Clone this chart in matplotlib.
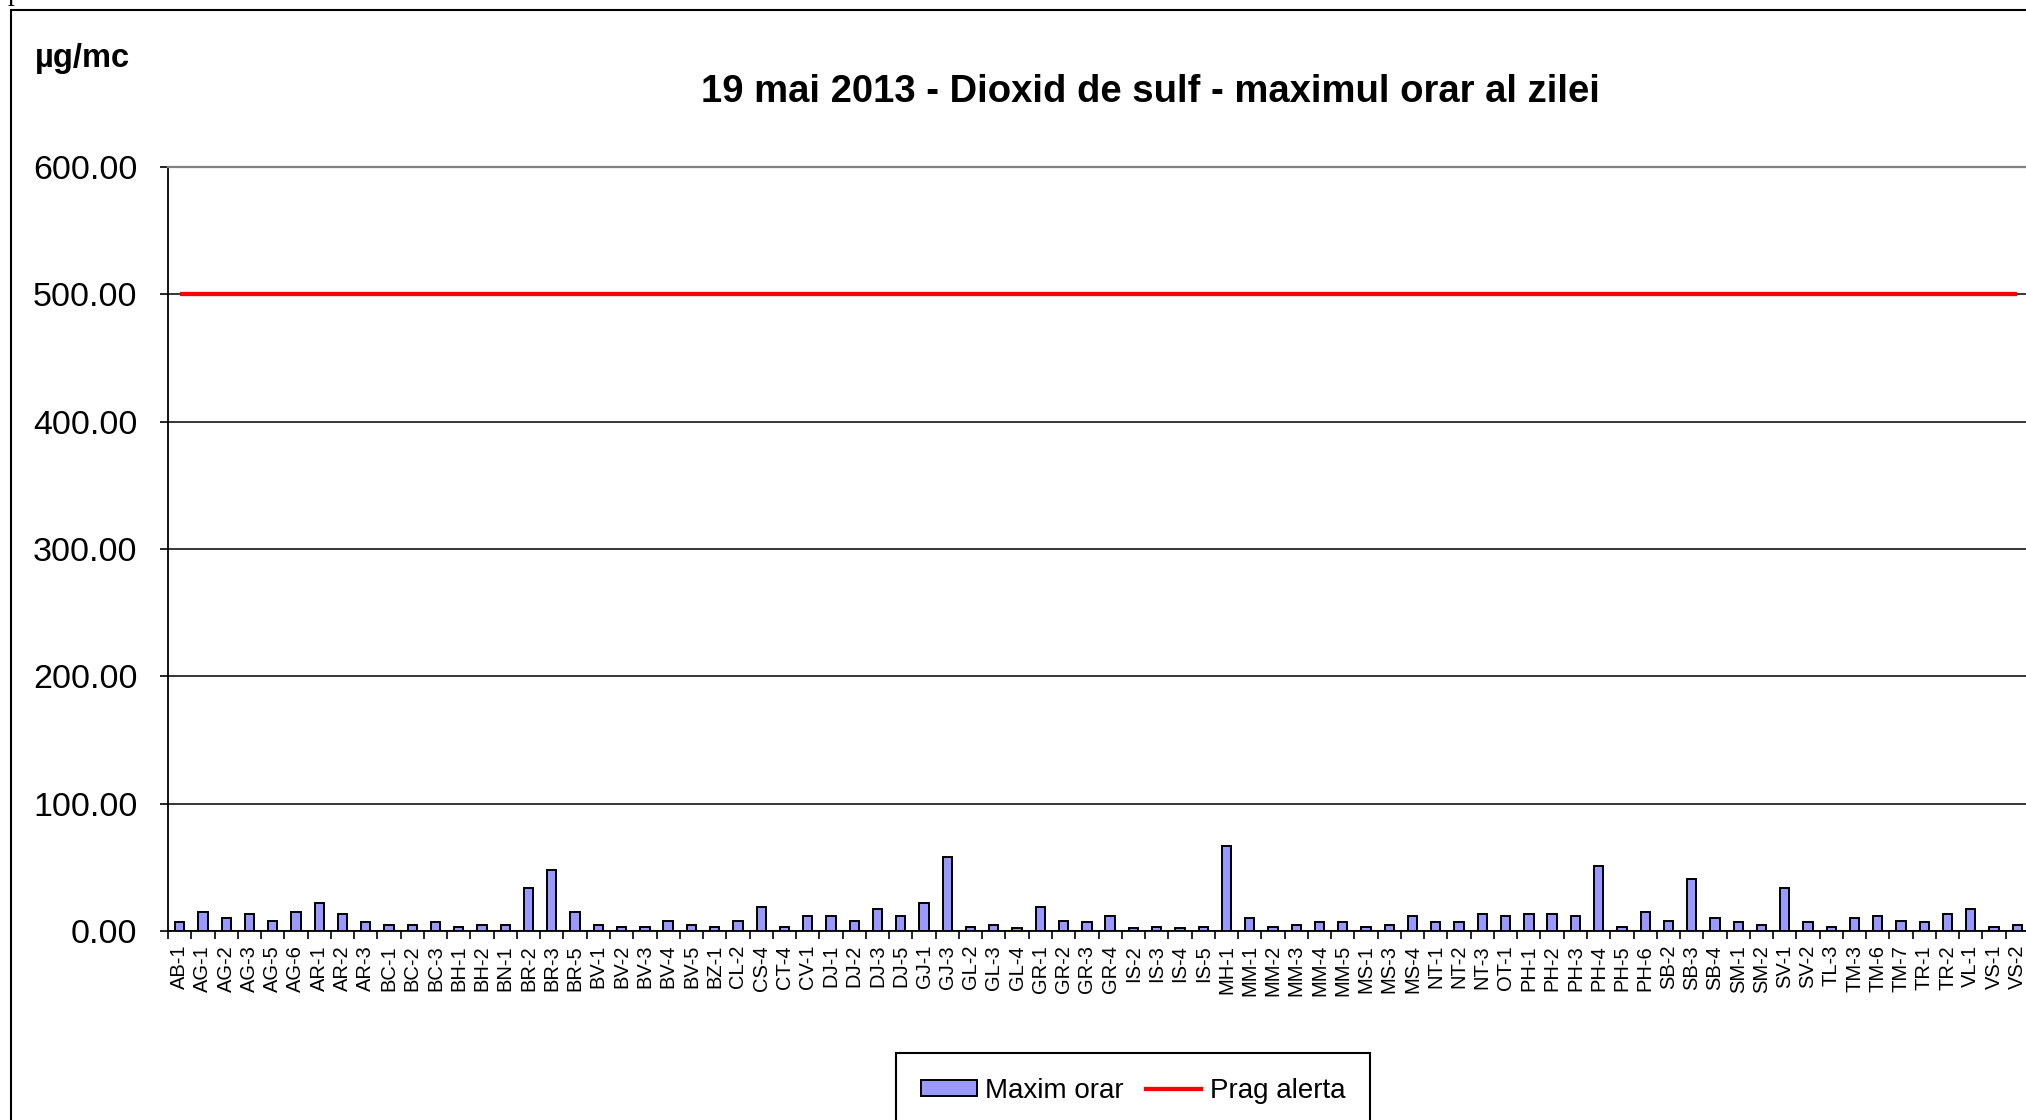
import matplotlib
matplotlib.use("Agg")
import matplotlib.pyplot as plt
from matplotlib.patches import Patch, Rectangle
from matplotlib.lines import Line2D
from matplotlib.ticker import FormatStrFormatter, FixedLocator

plt.rcParams['font.family'] = ['Liberation Sans', 'DejaVu Sans']

# data
stations = ["AB-1", "AG-1", "AG-2", "AG-3", "AG-5", "AG-6", "AR-1", "AR-2", "AR-3",
            "BC-1", "BC-2", "BC-3", "BH-1", "BH-2", "BN-1", "BR-2", "BR-3", "BR-5",
            "BV-1", "BV-2", "BV-3", "BV-4", "BV-5", "BZ-1", "CL-2", "CS-4", "CT-4",
            "CV-1", "DJ-1", "DJ-2", "DJ-3", "DJ-5", "GJ-1", "GJ-3", "GL-2", "GL-3",
            "GL-4", "GR-1", "GR-2", "GR-3", "GR-4", "IS-2", "IS-3", "IS-4", "IS-5",
            "MH-1", "MM-1", "MM-2", "MM-3", "MM-4", "MM-5", "MS-1", "MS-3", "MS-4",
            "NT-1", "NT-2", "NT-3", "OT-1", "PH-1", "PH-2", "PH-3", "PH-4", "PH-5",
            "PH-6", "SB-2", "SB-3", "SB-4", "SM-1", "SM-2", "SV-1", "SV-2", "TL-3",
            "TM-3", "TM-6", "TM-7", "TR-1", "TR-2", "VL-1", "VS-1", "VS-2"]
maxim_orar = [7, 15, 10, 13, 8, 15, 22, 13, 7,
              5, 5, 7, 3, 5, 5, 34, 48, 15,
              5, 3, 3, 8, 5, 3, 8, 19, 3,
              12, 12, 8, 17, 12, 22, 58, 3, 5,
              2, 19, 8, 7, 12, 2, 3, 2, 3,
              67, 10, 3, 5, 7, 7, 3, 5, 12,
              7, 7, 13, 12, 13, 13, 12, 51, 3,
              15, 8, 41, 10, 7, 5, 34, 7, 3,
              10, 12, 8, 7, 13, 17, 3, 5]
prag_alerta = 500
y_ticks = [0, 100, 200, 300, 400, 500, 600]

title = "19 mai 2013 - Dioxid de sulf - maximul orar al zilei"
unit = "µg/mc"

W, H = 2026, 1120
fig = plt.figure(figsize=(W / 100, H / 100), dpi=100)

# plot area runs slightly past the right edge (the original is a crop)
left, right, top, bottom = 168, 2029, 167, 931
ax = fig.add_axes([left / W, 1 - bottom / H, (right - left) / W, (bottom - top) / H])

x = list(range(len(stations)))
ax.bar(x, maxim_orar, width=0.4, color="#9999FF", edgecolor="black", linewidth=1.4, zorder=3)
ax.plot([x[0], x[-1]], [prag_alerta, prag_alerta], color="#FF0000", linewidth=3.1, zorder=4,
        solid_capstyle="butt")

ax.set_xlim(-0.5, len(stations) - 0.5)
ax.set_ylim(y_ticks[0], y_ticks[-1])
ax.yaxis.set_major_locator(FixedLocator(y_ticks))
ax.yaxis.set_major_formatter(FormatStrFormatter("%.2f"))
ax.yaxis.grid(True, color="black", linewidth=1.1)
ax.set_axisbelow(True)

ax.set_xticks(x)
ax.set_xticklabels(stations, rotation=90, fontsize=14.5)
ax.set_xticks([i - 0.5 for i in range(len(stations) + 1)], minor=True)
ax.tick_params(axis="x", which="major", length=0, pad=10)
ax.tick_params(axis="x", which="minor", length=6, width=1.2, direction="out")
ax.tick_params(axis="y", length=6, width=1.2, direction="out", labelsize=24.5, pad=16)

for s in ("left", "bottom"):
    ax.spines[s].set_color("black")
    ax.spines[s].set_linewidth(1.3)
for s in ("top", "right"):
    ax.spines[s].set_color("#808080")
    ax.spines[s].set_linewidth(1.6)

# outer chart frame (cropped on the right and bottom)
fig.add_artist(Rectangle((11 / W, -0.05), 1.1, 1 - 10 / H + 0.05, transform=fig.transFigure,
                         fill=False, edgecolor="black", linewidth=1.5))
# fragment of a character above the chart, cut by the top edge in the original
fig.text(8 / W, 1.0, "p", family="Liberation Serif", fontsize=20, va="baseline", ha="left")

fig.text(1150 / W, 1 - 92 / H, title, fontsize=27.5, fontweight="bold", ha="center", va="center")
fig.text(35 / W, 1 - 58 / H, unit, fontsize=23.5, fontweight="bold", ha="left", va="center")

handles = [Patch(facecolor="#9999FF", edgecolor="black", linewidth=1.4, label="Maxim orar"),
           Line2D([], [], color="#FF0000", linewidth=3.1, label="Prag alerta")]
leg = ax.legend(handles=handles, loc="upper left", bbox_to_anchor=(896 / W, 1 - 1053 / H),
                bbox_transform=fig.transFigure, ncol=2, fontsize=20, frameon=True,
                fancybox=False, edgecolor="black", framealpha=1, borderaxespad=0,
                handlelength=2.0, handleheight=0.5, handletextpad=0.3, columnspacing=0.8,
                borderpad=0.9)
leg.get_frame().set_linewidth(1.5)

fig.savefig("out.png", dpi=100)
